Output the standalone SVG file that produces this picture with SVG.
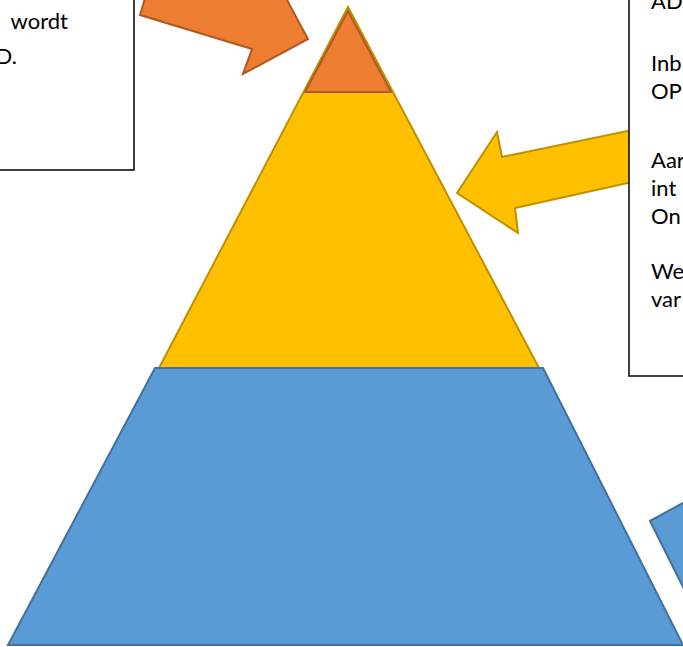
<svg xmlns="http://www.w3.org/2000/svg" width="683" height="647" viewBox="0 0 683 647">
<style>
.box{fill:#fff;stroke:#000;stroke-width:1.5}
.t{font-family:Lato,"Open Sans","Liberation Sans",sans-serif;font-size:22px;fill:#000}
.org{fill:#ED7D31;stroke:#AE5A21;stroke-width:2;stroke-linejoin:miter}
.yel{fill:#FFC000;stroke:#BF9000;stroke-width:2}
.blu{fill:#5B9BD5;stroke:#41719C;stroke-width:2}
</style>
<rect width="683" height="647" fill="#fff"/>
<g id="pyramid-yellow"><polygon class="yel" points="348,7 159,368 539,368"/></g>
<g id="pyramid-orange"><polygon class="org" points="348,11 305,92 391,92"/></g>
<g id="pyramid-blue"><polygon class="blu" points="155,368 543,368 683,645 8,645"/></g>
<g id="connectors">
<polygon class="org" points="140,15 155,-35 267,-1 273,-26 308,39 243,74 252,49"/>
<polygon class="yel" points="700,116 502,157 497,132 457,193 518,233 515,208 700,167"/>
<polygon class="blu" points="650,521 692,498 692,605"/>
</g>
<g id="box-left">
<rect class="box" x="-5" y="-5" width="139" height="175"/>
<text class="t" x="68" y="29" text-anchor="end">wordt</text>
<text class="t" x="17" y="64" text-anchor="end">D.</text>
</g>
<g id="box-right">
<rect class="box" x="629" y="-5" width="70" height="381"/>
<text class="t" x="651" y="9">AD</text>
<text class="t" x="651" y="71">Inb</text>
<text class="t" x="651" y="99">OP</text>
<text class="t" x="651" y="168">Aar</text>
<text class="t" x="651" y="196">int</text>
<text class="t" x="651" y="224">On</text>
<text class="t" x="651" y="279">We</text>
<text class="t" x="651" y="307">var</text>
</g>
</svg>
